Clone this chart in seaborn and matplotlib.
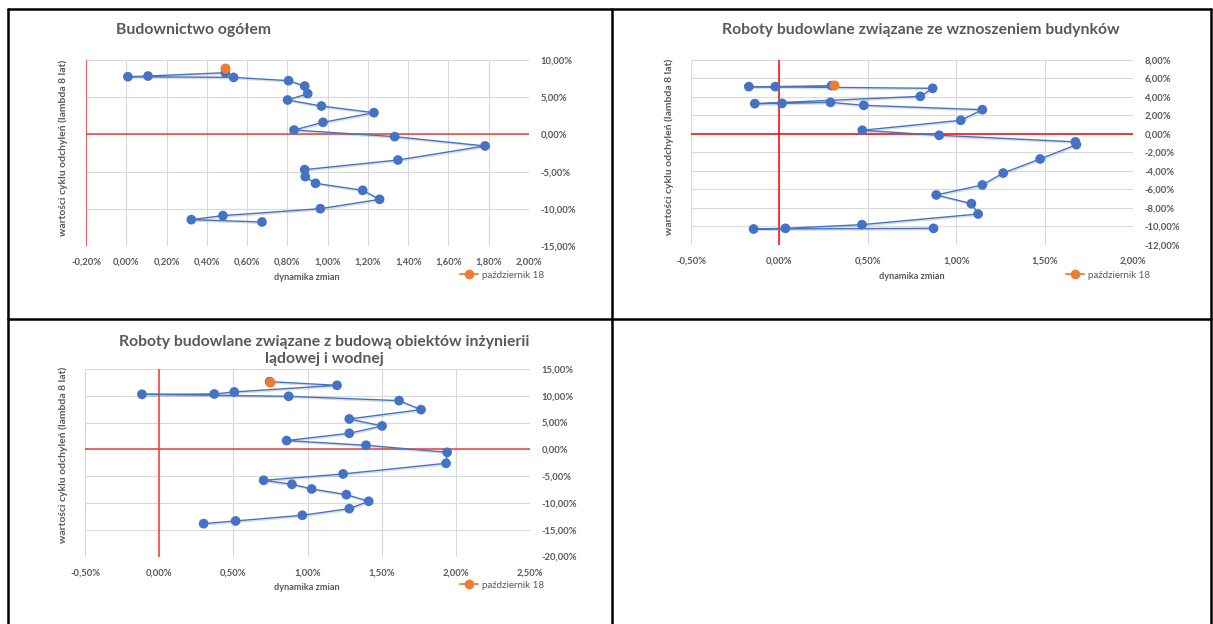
import numpy as np
import seaborn as sns
import matplotlib.pyplot as plt
import matplotlib.patheffects as pe
from matplotlib.lines import Line2D
from matplotlib.ticker import FuncFormatter, FixedLocator

# dane (procenty)
x_ogolem = [0.674, 0.323, 0.480, 0.964, 1.258, 1.174, 0.940, 0.889, 0.886, 1.349, 1.782, 1.333,
            0.833, 0.977, 1.230, 0.969, 0.801, 0.901, 0.886, 0.806, 0.533, 0.008, 0.108, 0.492]
y_ogolem = [-11.74, -11.43, -10.89, -9.96, -8.71, -7.50, -6.56, -5.67, -4.73, -3.44, -1.56, -0.31,
            0.58, 1.61, 2.90, 3.79, 4.60, 5.45, 6.47, 7.19, 7.63, 7.72, 7.81, 8.26]
x_ogolem_ost = [0.492]
y_ogolem_ost = [8.84]

x_budynki = [0.872, -0.146, 0.034, 0.467, 1.124, 1.086, 0.887, 1.148, 1.266, 1.475, 1.680, 1.674,
             0.904, 0.469, 1.026, 1.148, 0.477, 0.289, 0.015, -0.139, 0.797, 0.867, -0.173, -0.023, 0.295]
y_budynki = [-10.20, -10.27, -10.20, -9.80, -8.65, -7.53, -6.59, -5.51, -4.22, -2.70, -1.15, -0.85,
             -0.14, 0.40, 1.48, 2.63, 3.10, 3.42, 3.31, 3.28, 4.07, 4.94, 5.12, 5.12, 5.23]
x_budynki_ost = [0.310]
y_budynki_ost = [5.33]

x_inzynieria = [0.299, 0.515, 0.965, 1.282, 1.413, 1.262, 1.028, 0.895, 0.704, 1.240, 1.935, 1.942,
                1.395, 0.859, 1.282, 1.503, 1.282, 1.766, 1.618, 0.873, -0.117, 0.371, 0.506, 1.199, 0.745]
y_inzynieria = [-13.87, -13.37, -12.31, -11.07, -9.70, -8.46, -7.40, -6.53, -5.78, -4.60, -2.61, -0.56,
                0.75, 1.62, 2.99, 4.35, 5.66, 7.40, 9.08, 9.89, 10.26, 10.32, 10.70, 11.94, 12.62]
x_inzynieria_ost = [0.745]
y_inzynieria_ost = [12.62]

titles = ["Budownictwo ogółem",
          "Roboty budowlane związane ze wznoszeniem budynków",
          "Roboty budowlane związane z budową obiektów inżynierii\nlądowej i wodnej"]
legend_label = "październik 18"
x_label = "dynamika zmian"
y_label = "wartości cyklu odchyleń (lambda 8 lat)"

sns.set_theme(style="white")
plt.rcParams['font.family'] = ['Lato', 'DejaVu Sans']

W, H = 1213, 624
BLUE = "#4472C4"
ORANGE = "#ED7D31"
GRAY = "#595959"

fig = plt.figure(figsize=(W / 100, H / 100), dpi=100)


def fx(px):
    return px / W


def fy(py):
    return 1 - py / H


def pct(v, pos=None):
    return f"{round(v, 2) + 0:.2f}".replace(".", ",") + "%"


def panel(box, xs, ys, xo, yo, xticks, yticks, vline, red, title_xy, xlab_xy, ylab_xy, leg_xy, title):
    left, top, right, bottom = box
    ax = fig.add_axes([fx(left), fy(bottom), fx(right - left), fy(top) - fy(bottom)])
    sns.lineplot(x=xs, y=ys, sort=False, estimator=None, ax=ax, color=BLUE, linewidth=1,
                 marker="o", markersize=7, markeredgewidth=0, zorder=4,
                 path_effects=[pe.SimpleLineShadow(offset=(0.8, -1.0), shadow_color="#777777", alpha=0.25),
                               pe.Normal()])
    sns.scatterplot(x=xo, y=yo, ax=ax, color=ORANGE, s=52, linewidth=0, zorder=5)
    ax.axhline(0, color=red, linewidth=1.1, zorder=3)
    ax.axvline(vline, color=red, linewidth=1.1, zorder=3)
    ax.set_xlim(xticks[0], xticks[-1])
    ax.set_ylim(yticks[0], yticks[-1])
    ax.xaxis.set_major_locator(FixedLocator(xticks))
    ax.yaxis.set_major_locator(FixedLocator(yticks))
    ax.xaxis.set_major_formatter(FuncFormatter(pct))
    ax.yaxis.set_major_formatter(FuncFormatter(pct))
    ax.yaxis.tick_right()
    ax.tick_params(axis="both", length=0, labelsize=6.8, labelcolor=GRAY, pad=8.5)
    for lab in ax.get_xticklabels() + ax.get_yticklabels():
        lab.set_fontweight("bold")
    ax.grid(True, color="#D9D9D9", linewidth=0.8, zorder=0)
    ax.set_axisbelow(True)
    for s in ax.spines.values():
        s.set_visible(False)
    ax.set_xlabel("")
    ax.set_ylabel("")
    if ax.get_legend() is not None:
        ax.get_legend().remove()

    fig.text(fx(title_xy[0]), fy(title_xy[1]), title, ha="center", va="center",
             fontsize=11.3, fontweight="bold", color=GRAY, linespacing=1.35)
    fig.text(fx(xlab_xy[0]), fy(xlab_xy[1]), x_label, ha="center", va="center",
             fontsize=6.6, fontweight="bold", color=GRAY)
    fig.text(fx(ylab_xy[0]), fy(ylab_xy[1]), y_label, ha="center", va="center", rotation=90,
             fontsize=7.5, fontweight="bold", color=GRAY)
    handle = Line2D([], [], color=ORANGE, linewidth=1.3, marker="o", markersize=7, markeredgewidth=0)
    ax.legend(handles=[handle], labels=[legend_label], loc="center left",
              bbox_to_anchor=(fx(leg_xy[0]), fy(leg_xy[1])), bbox_transform=fig.transFigure,
              frameon=False, fontsize=7, labelcolor=GRAY, handlelength=1.9, handletextpad=0.35,
              borderpad=0, borderaxespad=0)
    return ax


panel((86, 59.7, 529, 246.3), x_ogolem, y_ogolem, x_ogolem_ost, y_ogolem_ost,
      list(np.round(np.arange(-0.2, 2.01, 0.2), 2)), list(range(-15, 11, 5)), -0.2, "#F23A3A",
      (194, 30), (307, 277.5), (63, 148), (460, 275), titles[0])

panel((691, 60, 1133, 245), x_budynki, y_budynki, x_budynki_ost, y_budynki_ost,
      list(np.round(np.arange(-0.5, 2.01, 0.5), 2)), list(range(-12, 9, 2)), 0.0, "#FF0000",
      (921, 30), (912, 276.5), (669, 147), (1066, 275), titles[1])

panel((85.2, 368.9, 529.8, 556.5), x_inzynieria, y_inzynieria, x_inzynieria_ost, y_inzynieria_ost,
      list(np.round(np.arange(-0.5, 2.51, 0.5), 2)), list(range(-20, 16, 5)), 0.0, "#F23A3A",
      (324, 350.5), (307, 587), (63, 455), (460, 585), titles[2])

# ramki tabeli
for x0, y0, x1, y1 in [(8, 9, 1211, 9), (8, 319, 1211, 319), (8, 9, 8, 624),
                       (612, 9, 612, 624), (1211, 9, 1211, 624)]:
    fig.add_artist(Line2D([fx(x0), fx(x1)], [fy(y0), fy(y1)], color="black", linewidth=1.8))

fig.savefig("out.png", dpi=100)
